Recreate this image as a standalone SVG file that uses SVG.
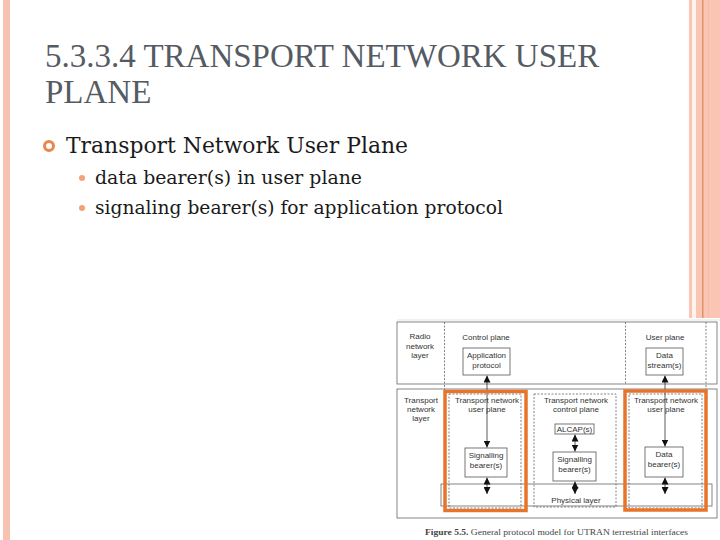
<svg xmlns="http://www.w3.org/2000/svg" width="720" height="540" viewBox="0 0 720 540">
<style>
.title{font-family:"Liberation Serif","Times New Roman",serif;font-size:33px;fill:#555b63}
.b1{font-family:"DejaVu Serif","Liberation Serif",serif;font-size:22px;fill:#1a1a1a}
.b2{font-family:"DejaVu Serif","Liberation Serif",serif;font-size:18.5px;fill:#1a1a1a}
.f{font-family:"Liberation Sans",Arial,sans-serif;font-size:8px;fill:#333;text-anchor:middle}
.box{fill:#fff;stroke:#555;stroke-width:0.8}
.frame{fill:none;stroke:#666;stroke-width:0.8}
.dash{fill:none;stroke:#666;stroke-width:0.8;stroke-dasharray:2,1.5}
.orange{fill:none;stroke:#e8742a;stroke-width:3.5}
.conn{stroke:#333;stroke-width:0.8;fill:none;marker-start:url(#ah);marker-end:url(#ah)}
.cap{font-family:"Liberation Serif","Times New Roman",serif;font-size:9px;fill:#444}
</style>
<defs>
<marker id="ah" viewBox="0 0 8 8" refX="8" refY="4" markerWidth="7" markerHeight="7" markerUnits="userSpaceOnUse" orient="auto-start-reverse">
<path d="M0,0 L8,4 L0,8 z" fill="#111"/>
</marker>
</defs>
<rect x="0" y="0" width="720" height="540" fill="#fff"/>
<!-- borders -->
<g id="borders">
<rect x="3" y="0" width="7" height="540" fill="#f7c3b0"/>
<rect x="689" y="0" width="31" height="318" fill="#fac6b3"/>
<rect x="692" y="0" width="4" height="318" fill="#fdf4ee"/>
<rect x="702" y="0" width="1.5" height="318" fill="#e0916a"/>
<rect x="708" y="0" width="1" height="318" fill="#f6bca6"/>
</g>
<g id="title">
<text class="title" x="45" y="67">5.3.3.4 TRANSPORT NETWORK USER</text>
<text class="title" x="45" y="103">PLANE</text>
</g>
<g id="bullets">
<circle cx="49" cy="146" r="4.5" fill="none" stroke="#e8874a" stroke-width="3"/>
<text class="b1" x="66" y="153" textLength="342" lengthAdjust="spacingAndGlyphs">Transport Network User Plane</text>
<circle cx="82" cy="178" r="3" fill="#f2a274"/>
<text class="b2" x="95" y="184" textLength="267" lengthAdjust="spacingAndGlyphs">data bearer(s) in user plane</text>
<circle cx="82" cy="208" r="3" fill="#f2a274"/>
<text class="b2" x="95" y="214" textLength="408" lengthAdjust="spacingAndGlyphs">signaling bearer(s) for application protocol</text>
</g>
<!-- figure -->
<g id="figure">
<rect x="395" y="318" width="325" height="222" fill="#fff"/>
<line x1="397" y1="320" x2="720" y2="320" stroke="#ddd" stroke-width="0.8"/>
<g id="radio-layer">
<rect class="frame" x="397" y="322" width="320" height="62"/>
<text class="f" x="420" y="339">Radio</text>
<text class="f" x="420" y="349">network</text>
<text class="f" x="420" y="358">layer</text>
</g>
<g id="transport-layer">
<rect class="frame" x="397" y="389" width="320" height="129"/>
<text class="f" x="421" y="403">Transport</text>
<text class="f" x="421" y="412">network</text>
<text class="f" x="421" y="421">layer</text>
</g>
<g id="dividers">
<line class="dash" x1="444.5" y1="322" x2="444.5" y2="508"/>
<line class="dash" x1="625.5" y1="322" x2="625.5" y2="384"/>
<line class="dash" x1="706" y1="322" x2="706" y2="508"/>
</g>
<g id="control-plane">
<text class="f" x="486" y="340">Control plane</text>
</g>
<g id="user-plane">
<text class="f" x="665" y="340">User plane</text>
</g>
<g id="physical-layer">
<rect class="frame" x="441" y="484" width="271" height="22"/>
<text class="f" x="576" y="503">Physical layer</text>
</g>
<g id="tn-user-plane-left">
<rect class="dash" x="449" y="394" width="72" height="114"/>
<text class="f" x="487" y="403">Transport network</text>
<text class="f" x="487" y="412">user plane</text>
</g>
<g id="tn-control-plane">
<rect class="dash" x="534" y="394" width="82" height="113"/>
<text class="f" x="576" y="403">Transport network</text>
<text class="f" x="576" y="412">control plane</text>
</g>
<g id="tn-user-plane-right">
<rect class="dash" x="629" y="394" width="73" height="114"/>
<text class="f" x="666" y="403">Transport network</text>
<text class="f" x="666" y="412">user plane</text>
</g>
<g id="application-protocol">
<rect class="box" x="463" y="348" width="47" height="27"/>
<text class="f" x="486.5" y="358">Application</text>
<text class="f" x="486.5" y="368">protocol</text>
</g>
<g id="data-streams">
<rect class="box" x="646" y="348" width="37" height="27"/>
<text class="f" x="664.5" y="358">Data</text>
<text class="f" x="664.5" y="368">stream(s)</text>
</g>
<g id="signalling-bearer-left">
<rect class="box" x="465" y="448" width="42" height="29"/>
<text class="f" x="486" y="458">Signalling</text>
<text class="f" x="486" y="468">bearer(s)</text>
</g>
<g id="alcap">
<rect class="box" x="555" y="424" width="39" height="10"/>
<text class="f" x="574.5" y="432">ALCAP(s)</text>
</g>
<g id="signalling-bearer-mid">
<rect class="box" x="553" y="452" width="43" height="29"/>
<text class="f" x="574.5" y="462">Signalling</text>
<text class="f" x="574.5" y="472">bearer(s)</text>
</g>
<g id="data-bearers">
<rect class="box" x="645" y="447" width="38" height="30"/>
<text class="f" x="664" y="457">Data</text>
<text class="f" x="664" y="467">bearer(s)</text>
</g>
<g id="connectors">
<line class="conn" x1="487" y1="375.5" x2="487" y2="447.5"/>
<line class="conn" x1="487" y1="477.5" x2="487" y2="494"/>
<line class="conn" x1="575" y1="434.5" x2="575" y2="451.5"/>
<line class="conn" x1="575" y1="481.5" x2="575" y2="494"/>
<line class="conn" x1="665" y1="375.5" x2="665" y2="446.5"/>
<line class="conn" x1="665" y1="477.5" x2="665" y2="494"/>
</g>
<g id="highlights">
<rect class="orange" x="445" y="391.5" width="81" height="119"/>
<rect class="orange" x="625" y="391" width="81" height="119"/>
</g>
<text class="cap" x="425" y="535" textLength="263" lengthAdjust="spacingAndGlyphs"><tspan font-weight="bold">Figure 5.5.</tspan> General protocol model for UTRAN terrestrial interfaces</text>
</g>
</svg>
